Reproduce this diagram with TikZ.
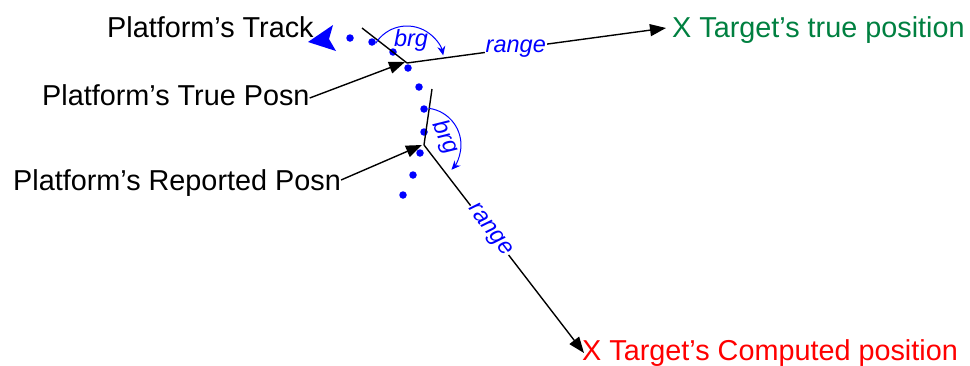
\documentclass[tikz,border=0pt]{standalone}
\usepackage{fontspec}
\setmainfont{Liberation Sans}
\usetikzlibrary{arrows.meta}
\definecolor{tgreen}{RGB}{0,128,64}
\begin{document}
\begin{tikzpicture}[x=1pt,y=-1pt,
  lbl/.style={inner sep=0pt, font=\fontsize{28.8}{30}\selectfont, anchor=base west},
  ang/.style={inner sep=1pt, font=\fontsize{23.5}{25}\selectfont\itshape, text=blue},
  conn/.style={line width=1.4pt, -{Triangle[length=16pt,width=12pt]}},
  plainline/.style={line width=1.4pt},
  arcarr/.style={blue, line width=1pt, -{Stealth[length=9pt,width=8pt]}},
  dot/.style={circle, fill=blue, inner sep=0pt, minimum size=7.5pt}]
\useasboundingbox (0,0) rectangle (970,365);

% texts
\node[lbl] (track) at (107,37) {Platform’s Track};
\node[lbl] (trueposn) at (42,105) {Platform’s True Posn};
\node[lbl] (reported) at (13,190) {Platform’s Reported Posn};
\node[lbl, text=tgreen] (ttrue) at (672,37) {X Target’s true position};
\node[lbl, text=red] (tcomp) at (582,360) {X Target’s Computed position};

% track dots
\node[dot] (d1) at (350,38) {};
\node[dot] (d2) at (372,42) {};
\node[dot] (d3) at (393,52) {};
\node[dot] (d4) at (408,68) {};
\node[dot] (d5) at (419,87) {};
\node[dot] (d6) at (424,109) {};
\node[dot] (d7) at (424,132) {};
\node[dot] (d8) at (420,153) {};
\node[dot] (d9) at (413,175) {};
\node[dot] (d10) at (403,195) {};

% track direction arrowhead
\fill[blue] (308,42) -- (333,25) -- (329,39) -- (336,51) -- cycle;

% key points
\coordinate (h1) at (362,28);
\coordinate (P1) at (407,63);
\coordinate (h2) at (432,89);
\coordinate (P2) at (424,145);
\coordinate (tip1) at (666,28);
\coordinate (tip2) at (584,353);
\coordinate (a1) at (405,62);
\coordinate (a2) at (422,145);

% headings
\draw[plainline] (h1) -- (P1);
\draw[plainline] (h2) -- (P2);

% range lines
\draw[conn] (P1) -- (tip1) node[ang, fill=white, pos=0.42] (r1) {range};
\draw[conn] (P2) -- (tip2) node[ang, fill=white, sloped, pos=0.41] (r2) {range};

% pointer arrows
\draw[conn] ([yshift=7pt]trueposn.base east) -- (a1);
\draw[conn] ([yshift=10pt]reported.base east) -- (a2);

% bearing arcs
\draw[arcarr] (P1) ++(-148:37) arc[start angle=-148, end angle=-12, radius=37];
\node[ang] (b1) at (411,40) {brg};
\draw[arcarr] (P2) ++(-82:37) arc[start angle=-82, end angle=42, radius=37];
\node[ang, rotate=-65] (b2) at (445,137) {brg};
\end{tikzpicture}
\end{document}
